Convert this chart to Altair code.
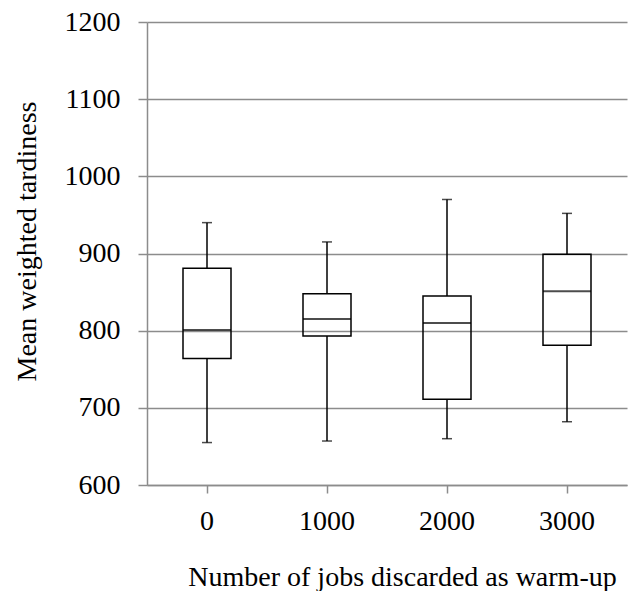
import altair as alt
import pandas as pd

# Warm-up length (jobs discarded) and the five-number summary of each run set
warmup = ["0", "1000", "2000", "3000"]
lows = [655, 657, 660, 682]
q1s = [764, 793, 711, 781]
medians = [801, 815, 810, 851]
q3s = [881, 848, 845, 899]
highs = [940, 915, 970, 952]

df = pd.DataFrame({
    "warmup": warmup,
    "low": lows,
    "q1": q1s,
    "median": medians,
    "q3": q3s,
    "high": highs,
})

FONT = "Times New Roman, Liberation Serif, serif"
GRAY = "#8c8c8c"

x_enc = alt.X(
    "warmup:N",
    sort=warmup,
    scale=alt.Scale(paddingInner=0, paddingOuter=0),
    axis=alt.Axis(
        title="Number of jobs discarded as warm-up",
        labelAngle=0,
        labelFont=FONT,
        labelFontSize=28,
        labelColor="black",
        labelPadding=14,
        tickColor=GRAY,
        tickSize=8,
        tickWidth=1.5,
        domainColor=GRAY,
        domainWidth=1.5,
        grid=False,
        titleFont=FONT,
        titleFontSize=28,
        titleFontWeight="normal",
        titleColor="black",
        titleAlign="center",
        titleBaseline="alphabetic",
        titleX=255,
        titleY=100,
    ),
)

y_scale = alt.Scale(domain=[600, 1200], nice=False, zero=False)

base = alt.Chart(df).encode(x=x_enc)

# whisker below the box
lower = base.mark_rule(color="black", strokeWidth=1.5).encode(
    y=alt.Y(
        "low:Q",
        scale=y_scale,
        axis=alt.Axis(
            title="Mean weighted tardiness",
            values=[600, 700, 800, 900, 1000, 1100, 1200],
            format="d",
            labelFont=FONT,
            labelFontSize=28,
            labelColor="black",
            labelPadding=18,
            tickColor=GRAY,
            tickSize=9,
            tickWidth=1.5,
            domainColor=GRAY,
            domainWidth=1.5,
            gridColor=GRAY,
            gridWidth=1.5,
            titleFont=FONT,
            titleFontSize=28,
            titleFontWeight="normal",
            titleColor="black",
            titleAngle=-90,
            titleAlign="center",
            titleBaseline="alphabetic",
            titleX=-112,
            titleY=219,
        ),
    ),
    y2="q1:Q",
)

# whisker above the box
upper = base.mark_rule(color="black", strokeWidth=1.5).encode(
    y=alt.Y("q3:Q", scale=y_scale),
    y2="high:Q",
)

# end caps
cap_low = base.mark_tick(color="black", size=10, thickness=1.5).encode(
    y=alt.Y("low:Q", scale=y_scale)
)
cap_high = base.mark_tick(color="black", size=10, thickness=1.5).encode(
    y=alt.Y("high:Q", scale=y_scale)
)

# interquartile box, unfilled
box = base.mark_bar(
    size=48, fill="transparent", stroke="black", strokeWidth=1.5
).encode(
    y=alt.Y("q1:Q", scale=y_scale),
    y2="q3:Q",
)

# median line
med = base.mark_tick(color="black", size=48, thickness=2).encode(
    y=alt.Y("median:Q", scale=y_scale)
)

chart = (
    alt.layer(lower, upper, cap_low, cap_high, box, med)
    .properties(
        width=480,
        height=463,
        autosize=alt.AutoSizeParams(type="none"),
        padding={"left": 147, "top": 22, "right": 2, "bottom": 106},
        background="white",
    )
    .configure_view(stroke=None)
)

chart.save("out.html", embed_options={"renderer": "svg", "actions": False})
